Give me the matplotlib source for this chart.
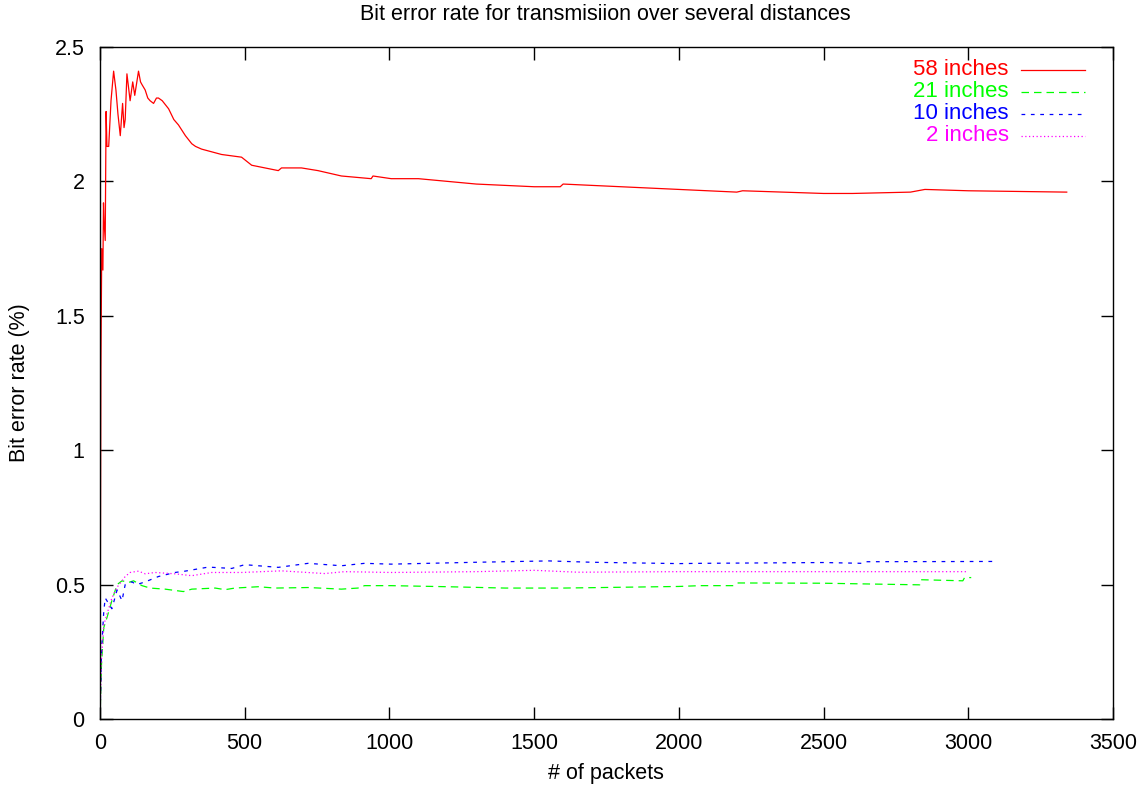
import numpy as np
import matplotlib
matplotlib.use('Agg')
import matplotlib.pyplot as plt

plt.rcParams['font.family'] = ['Liberation Sans', 'DejaVu Sans']

# --- data (packets, BER %) ---
x58 = [0, 3, 6, 10, 12, 14, 18, 21, 24, 30, 38, 47, 55, 62, 70, 78, 83, 87, 93,
       104, 113, 120, 133, 140, 145, 156, 165, 173, 185, 195, 202, 215, 237, 255,
       271, 295, 317, 330, 351, 420, 489, 524, 616, 627, 696, 753, 834, 937, 943,
       1006, 1100, 1300, 1500, 1590, 1600, 1800, 2000, 2200, 2220, 2500, 2600, 2800,
       2850, 3000, 3340]
y58 = [0.0, 1.30, 1.75, 1.67, 1.92, 1.85, 1.78, 2.26, 2.13, 2.13, 2.30, 2.41, 2.34,
       2.25, 2.17, 2.29, 2.20, 2.23, 2.40, 2.30, 2.37, 2.32, 2.41, 2.37, 2.36, 2.34,
       2.31, 2.30, 2.29, 2.31, 2.31, 2.30, 2.27, 2.23, 2.21, 2.17, 2.14, 2.13, 2.12,
       2.10, 2.09, 2.06, 2.04, 2.05, 2.05, 2.04, 2.02, 2.01, 2.02, 2.01, 2.01, 1.99,
       1.98, 1.98, 1.99, 1.98, 1.97, 1.96, 1.965, 1.955, 1.955, 1.96, 1.97, 1.965,
       1.96]

x21 = [0, 5, 13, 24, 41, 59, 76, 99, 116, 145, 173, 225, 288, 317, 398, 432, 466,
       547, 604, 719, 834, 891, 914, 1006, 1200, 1400, 1600, 1800, 2000, 2074, 2188,
       2205, 2500, 2832, 2837, 2981, 2987, 3010]
y21 = [0.0, 0.20, 0.34, 0.377, 0.44, 0.50, 0.514, 0.508, 0.514, 0.496, 0.487, 0.483,
       0.474, 0.483, 0.487, 0.481, 0.487, 0.492, 0.487, 0.489, 0.483, 0.487, 0.496,
       0.496, 0.492, 0.487, 0.487, 0.490, 0.493, 0.496, 0.496, 0.506, 0.505, 0.499,
       0.518, 0.514, 0.526, 0.526]

x10 = [0, 5, 13, 18, 41, 59, 76, 87, 110, 127, 156, 179, 202, 259, 294, 374, 455,
       500, 616, 719, 834, 914, 1006, 1300, 1550, 1700, 2000, 2074, 2500, 2636, 2648,
       3084]
y10 = [0.0, 0.25, 0.40, 0.45, 0.41, 0.48, 0.44, 0.50, 0.51, 0.50, 0.51, 0.52, 0.53,
       0.545, 0.55, 0.565, 0.56, 0.574, 0.564, 0.579, 0.57, 0.579, 0.576, 0.583,
       0.588, 0.583, 0.578, 0.579, 0.582, 0.579, 0.585, 0.586]

x2 = [0, 5, 13, 24, 41, 59, 87, 104, 133, 156, 190, 259, 317, 386, 489, 627, 776,
      845, 1006, 1300, 1500, 1650, 2000, 2074, 2500, 2997]
y2 = [0.0, 0.22, 0.35, 0.39, 0.45, 0.49, 0.53, 0.545, 0.55, 0.54, 0.545, 0.54, 0.533,
      0.545, 0.545, 0.551, 0.541, 0.548, 0.545, 0.548, 0.553, 0.546, 0.548, 0.548,
      0.548, 0.548]

labels = ['58 inches', '21 inches', '10 inches', '2 inches']
colors = ['#ff0000', '#00ff00', '#0000ff', '#ff00ff']
styles = ['-', (0, (6, 4)), (0, (3, 4.5)), (0, (1, 2))]

fig = plt.figure(figsize=(11.43, 7.88), dpi=100)
ax = fig.add_axes([0.0875, 0.0876, 0.8863, 0.8528])

series = [(x58, y58), (x21, y21), (x10, y10), (x2, y2)]
for (xs, ys), c, ls in zip(series, colors, styles):
    ax.plot(xs, ys, color=c, linestyle=ls, lw=0.9)

# gnuplot-style key: right-aligned coloured text, sample line on the right
for i, (lab, c, ls) in enumerate(zip(labels, colors, styles)):
    yy = 0.966 - i * 0.0328
    ax.text(0.897, yy, lab, color=c, fontsize=16, ha='right', va='center',
            transform=ax.transAxes)
    ax.plot([0.909, 0.972], [yy, yy], color=c, linestyle=ls, lw=0.9,
            transform=ax.transAxes)

ax.set_xlim(0, 3500)
ax.set_ylim(0, 2.5)
ax.set_xticks(np.arange(0, 3501, 500))
ax.set_yticks([0, 0.5, 1, 1.5, 2, 2.5])
ax.set_yticklabels(['0', '0.5', '1', '1.5', '2', '2.5'])
ax.tick_params(direction='in', length=9, width=1, top=True, right=True,
               labelsize=15.5, color='black')
ax.tick_params(axis='x', pad=10)
ax.tick_params(axis='y', pad=11)
for s in ax.spines.values():
    s.set_linewidth(1.0)

fig.text(0.530, 1 - 14 / 788, 'Bit error rate for transmisiion over several distances',
         fontsize=15.5, ha='center', va='center')
fig.text(0.530, 1 - 773 / 788, '# of packets', fontsize=15.5, ha='center', va='center')
fig.text(20 / 1143, 1 - 383 / 788, 'Bit error rate (%)', fontsize=15.5, ha='center',
         va='center', rotation=90)

fig.savefig('out.png', dpi=100)
